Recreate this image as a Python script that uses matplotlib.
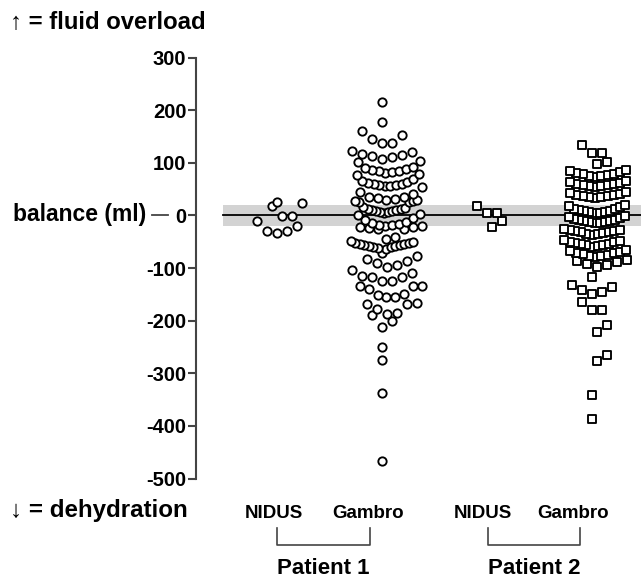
import numpy as np
import matplotlib
matplotlib.use("Agg")
import matplotlib.pyplot as plt
from matplotlib.lines import Line2D

plt.rcParams['font.family'] = ['Liberation Sans', 'DejaVu Sans']
plt.rcParams['font.weight'] = 'bold'

# === data (ml) ===
groups = ["NIDUS", "Gambro", "NIDUS", "Gambro"]
patients = ["Patient 1", "Patient 2"]
yticks = [300, 200, 100, 0, -100, -200, -300, -400, -500]

p1_nidus = [25, 23, 18, -1, -1, -10, -20, -29, -29, -34]
p1_gambro = [216, 178, 160, 153, 145, 138, 138,
             122, 120, 117, 115, 113, 110, 107, 104, 101,
             92, 90, 88, 86, 85, 84, 82, 80, 79, 77,
             70, 66, 63, 62, 60, 59, 58, 57, 56, 55, 54,
             45, 40, 35, 34, 33, 31, 30, 29, 28, 27, 26, 25,
             16, 14, 13, 12, 11, 10, 9, 8, 7, 6, 5, 3, 1,
             -5, -8, -12, -14, -16, -18, -19, -20, -21, -22, -23, -24, -25, -26,
             -42, -45, -48, -50, -52, -53, -54, -55, -56, -57, -58, -59, -60, -61, -62, -64,
             -72, -77, -82, -86, -90, -94, -98, -103,
             -109, -115, -118, -118, -124, -124, -134, -134, -134, -140, -149, -151,
             -155, -156, -166, -168, -169, -178, -186, -188, -190, -201, -213,
             -250, -275, -338, -466]
p2_nidus = [18, 4, 4, -11, -22]
p2_gambro = [133, 118, 118, 101, 97,
             86, 84, 82, 80, 79, 78, 77, 75, 74, 72,
             65, 63, 62, 60, 59, 58, 57, 56, 55, 53,
             45, 42, 40, 39, 38, 37, 36, 35, 34, 33,
             20, 17, 15, 13, 12, 10, 9, 8, 7, 6, 5, 4,
             -2, -4, -5, -6, -8, -9, -10, -11, -12, -13, -14, -15,
             -25, -27, -28, -29, -30, -31, -32, -33, -35, -36, -38,
             -46, -48, -50, -51, -52, -54, -55, -56, -57, -59, -60,
             -66, -68, -70, -71, -72, -74, -75, -77, -78, -80,
             -85, -87, -89, -92, -95, -98,
             -117, -133, -136, -141, -145, -150, -165, -180, -180,
             -209, -222, -265, -276, -341, -387]

W, H = 641, 579


def px(x, y):
    return x / W, 1 - y / H


def swarm(vals, binh, step, maxw):
    # prism-like column scatter: rows of similar values, lowest in the middle
    v = np.sort(np.asarray(vals, float))
    xs = np.zeros_like(v)
    i = 0
    while i < len(v):
        j = i
        while j < len(v) and v[j] - v[i] < binh:
            j += 1
        n = j - i
        sp = step if n < 2 else min(step, maxw / (n - 1))
        for k in range(n):
            slot = (k + 1) // 2 * (1 if k % 2 else -1)
            xs[i + k] = slot * sp
        if n % 2 == 0:
            xs[i:j] += sp / 2
        i = j
    return xs, v


fig = plt.figure(figsize=(W / 100, H / 100), dpi=100)
ax_l, ax_r, ax_t, ax_b = 196, 641, 57.5, 478.5
ax = fig.add_axes([ax_l / W, 1 - ax_b / H, (ax_r - ax_l) / W, (ax_b - ax_t) / H])
ax.set_xlim(0, ax_r - ax_l)
ax.set_ylim(-500, 300)

# band + zero line
x0 = 223 - ax_l
ax.axhspan(-20, 20, xmin=x0 / (ax_r - ax_l), xmax=1, color="#d3d3d3", lw=0, zorder=1)
ax.plot([x0, ax_r - ax_l], [0, 0], color="black", lw=1.3, zorder=2)

centers = [277, 382, 487, 592]
datasets = [p1_nidus, p1_gambro, p2_nidus, p2_gambro]
markers = ["o", "o", "s", "s"]
for c, vals, m in zip(centers, datasets, markers):
    if m == "o":
        xs, ys = swarm(vals, 25, 10, 62)
        ms = 36
    else:
        xs, ys = swarm(vals, 18, 10, 56)
        ms = 38
    ax.scatter(xs + c - ax_l, ys, s=ms, marker=m, facecolor="white",
               edgecolor="black", linewidth=1.35, zorder=3, clip_on=False)

# axis styling
for s in ["top", "right", "bottom"]:
    ax.spines[s].set_visible(False)
ax.spines["left"].set_color("#444444")
ax.spines["left"].set_linewidth(1.5)
ax.set_xticks([])
ax.set_yticks(yticks)
ax.set_yticklabels([str(t) for t in yticks], fontsize=14.5, fontweight="bold")
ax.tick_params(axis="y", length=6, width=1.5, color="#444444", pad=1)

# side texts
fig.text(*px(10, 22), "↑ = fluid overload", fontsize=17.2, ha="left", va="center")
fig.text(*px(10, 510), "↓ = dehydration", fontsize=17.4, ha="left", va="center")
fig.text(*px(146, 215), "balance (ml)", fontsize=16.5, ha="right", va="center")
fig.add_artist(Line2D([152 / W, 168 / W], [1 - 215 / H] * 2, color="#444444", lw=1.3))

# group labels
label_x = [274, 368, 483, 573]
for lx, g in zip(label_x, groups):
    fig.text(*px(lx, 513), g, fontsize=13.5, ha="center", va="center")

brackets = [(277, 370), (488, 580)]
for (a, b), p in zip(brackets, patients):
    fig.add_artist(Line2D([a / W, a / W, b / W, b / W],
                          [1 - 528 / H, 1 - 545 / H, 1 - 545 / H, 1 - 528 / H],
                          color="#444444", lw=1.2))
    fig.text(*px((a + b) / 2, 568), p, fontsize=16, ha="center", va="center")

fig.savefig("out.png", dpi=100)
